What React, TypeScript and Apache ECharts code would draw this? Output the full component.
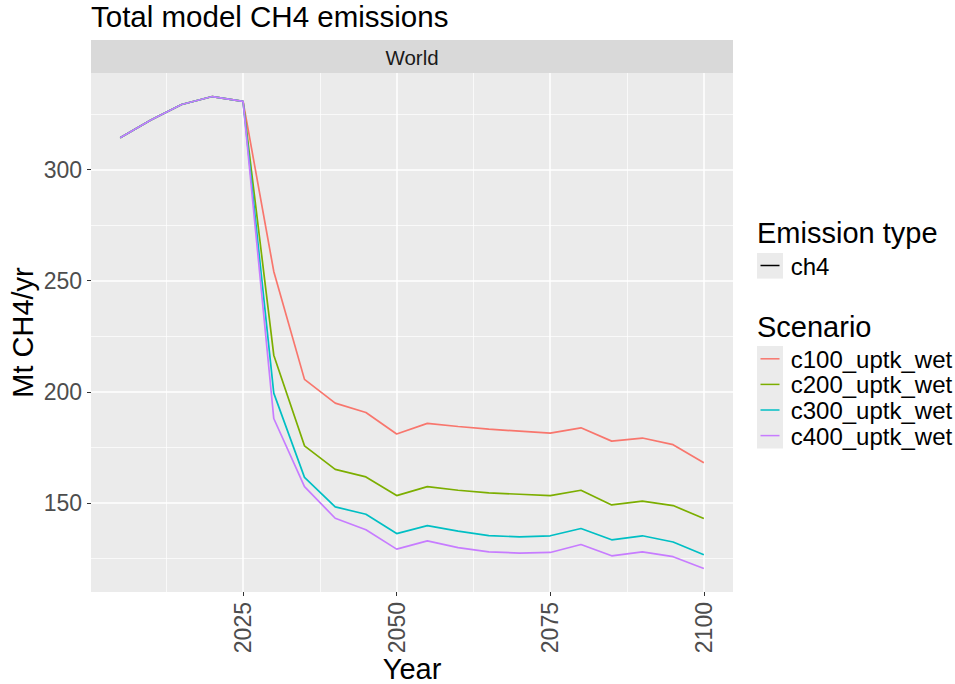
import React, { useEffect, useRef } from "react";
import * as echarts from "echarts";

// Years on the x axis
const years = [
  2005, 2010, 2015, 2020, 2025, 2030, 2035, 2040, 2045, 2050, 2055, 2060, 2065,
  2070, 2075, 2080, 2085, 2090, 2095, 2100,
];

// Shared history 2005–2025 (Mt CH4/yr)
const history = [314.4, 322.3, 329.3, 332.9, 330.7];

// Scenario projections 2030–2100 (Mt CH4/yr)
const c100 = [254.2, 205.6, 194.9, 190.7, 181.0, 185.8, 184.4, 183.2, 182.3, 181.4, 183.8, 177.8, 179.2, 176.2, 168.1];
const c200 = [216.5, 175.7, 165.1, 161.7, 153.3, 157.3, 155.7, 154.5, 153.9, 153.3, 155.7, 149.1, 150.8, 148.8, 143.0];
const c300 = [199.4, 161.5, 148.2, 144.9, 136.2, 139.8, 137.3, 135.3, 134.7, 135.2, 138.5, 133.4, 135.2, 132.4, 126.7];
const c400 = [188.0, 157.3, 143.1, 137.9, 129.2, 132.9, 129.9, 128.0, 127.4, 127.7, 131.3, 126.2, 128.0, 125.8, 120.5];

const scenarioNames = ["c100_uptk_wet", "c200_uptk_wet", "c300_uptk_wet", "c400_uptk_wet"];
const scenarioColors = ["#F8766D", "#7CAE00", "#00BFC4", "#C77CFF"];
const scenarioValues = [c100, c200, c300, c400];

const emissionTypes = ["ch4"];

const xMajorTicks = [2025, 2050, 2075, 2100];
const xMinorTicks = [2012.5, 2037.5, 2062.5, 2087.5];
const yMajorTicks = [150, 200, 250, 300];
const yMinorTicks = [125, 175, 225, 275, 325];

const FONT = "Liberation Sans, Arial, Helvetica, sans-serif";

const PANEL = { left: 91, top: 73, right: 733, bottom: 592 };

export default function App() {
  const ref = useRef<HTMLDivElement>(null);

  useEffect(() => {
    document.body.style.margin = "0";
    if (!ref.current) return;
    const chart = echarts.init(ref.current, undefined, { renderer: "svg" });

    const series = scenarioNames.map((name, k) => {
      const values = history.concat(scenarioValues[k]);
      return {
        name,
        type: "line",
        xAxisIndex: 0,
        yAxisIndex: 0,
        data: years.map((yr, i) => [yr, values[i]]),
        showSymbol: false,
        symbol: "none",
        lineStyle: { color: scenarioColors[k], width: 1.7 },
        itemStyle: { color: scenarioColors[k] },
        z: 3 + k,
      };
    });

    const gridLineMajor = { show: true, lineStyle: { color: "#ffffff", width: 1.5 } };
    const gridLineMinor = { show: true, lineStyle: { color: "#ffffff", width: 0.7 } };
    const xRange = { min: 2000.25, max: 2104.75 };
    const yRange = { min: 109.9, max: 343.5 };

    const legendX = 757;
    const keyW = 26;
    const rowH = 25.6;
    const textX = 790.7;

    const graphic: any[] = [
      // title
      {
        type: "text",
        left: 91,
        top: 1,
        style: { text: "Total model CH4 emissions", font: `29.5px ${FONT}`, fill: "#000000" },
      },
      // facet strip
      {
        type: "rect",
        shape: { x: PANEL.left, y: 40, width: PANEL.right - PANEL.left, height: 33 },
        style: { fill: "#d9d9d9" },
      },
      {
        type: "text",
        x: (PANEL.left + PANEL.right) / 2,
        y: 57,
        style: { text: "World", font: `20.5px ${FONT}`, fill: "#1a1a1a", align: "center", verticalAlign: "middle" },
      },
      // legend: emission type
      {
        type: "text",
        x: 757,
        y: 233,
        style: { text: "Emission type", font: `29px ${FONT}`, fill: "#000000", verticalAlign: "middle" },
      },
      {
        type: "rect",
        shape: { x: legendX, y: 253, width: keyW, height: rowH },
        style: { fill: "#ebebeb" },
      },
      {
        type: "line",
        shape: { x1: legendX + 3.5, y1: 265.5, x2: legendX + keyW - 3.5, y2: 265.5 },
        style: { stroke: "#000000", lineWidth: 1.5 },
      },
      {
        type: "text",
        x: textX,
        y: 266,
        style: { text: emissionTypes[0], font: `24px ${FONT}`, fill: "#000000", verticalAlign: "middle" },
      },
      // legend: scenario
      {
        type: "text",
        x: 757,
        y: 327,
        style: { text: "Scenario", font: `29px ${FONT}`, fill: "#000000", verticalAlign: "middle" },
      },
      {
        type: "rect",
        shape: { x: legendX, y: 346, width: keyW, height: rowH * scenarioNames.length },
        style: { fill: "#ebebeb" },
      },
    ];

    scenarioNames.forEach((name, k) => {
      const cy = 346 + rowH * (k + 0.5);
      graphic.push({
        type: "line",
        shape: { x1: legendX + 3.5, y1: cy, x2: legendX + keyW - 3.5, y2: cy },
        style: { stroke: scenarioColors[k], lineWidth: 1.5 },
      });
      graphic.push({
        type: "text",
        x: textX,
        y: cy + 0.5,
        style: { text: name, font: `24px ${FONT}`, fill: "#000000", verticalAlign: "middle" },
      });
    });

    chart.setOption({
      animation: false,
      backgroundColor: "#ffffff",
      textStyle: { fontFamily: FONT },
      grid: {
        left: PANEL.left,
        top: PANEL.top,
        width: PANEL.right - PANEL.left,
        height: PANEL.bottom - PANEL.top,
        containLabel: false,
        outerBoundsMode: "none",
        show: true,
        backgroundColor: "#ebebeb",
        borderWidth: 0,
      },
      xAxis: [
        {
          type: "value",
          ...xRange,
          position: "bottom",
          name: "Year",
          nameLocation: "middle",
          nameGap: 62,
          nameMoveOverlap: false,
          nameTextStyle: { fontSize: 29, color: "#000000", fontFamily: FONT },
          axisLine: { show: false },
          axisTick: { show: true, length: 4, lineStyle: { color: "#333333", width: 1 }, customValues: xMajorTicks },
          axisLabel: {
            customValues: xMajorTicks,
            rotate: 90,
            margin: 10,
            fontSize: 23,
            color: "#4d4d4d",
            fontFamily: FONT,
            formatter: (v: number) => String(v),
          },
          splitLine: gridLineMajor,
          z: 1,
        },
        {
          type: "value",
          ...xRange,
          position: "bottom",
          axisLine: { show: false },
          axisTick: { show: false, customValues: xMinorTicks },
          axisLabel: { show: false, customValues: xMinorTicks },
          splitLine: gridLineMinor,
          z: 0,
        },
      ],
      yAxis: [
        {
          type: "value",
          ...yRange,
          position: "left",
          name: "Mt CH4/yr",
          nameLocation: "middle",
          nameGap: 54,
          nameMoveOverlap: false,
          nameRotate: 90,
          nameTextStyle: { fontSize: 29, color: "#000000", fontFamily: FONT },
          axisLine: { show: false },
          axisTick: { show: true, length: 4, lineStyle: { color: "#333333", width: 1 }, customValues: yMajorTicks },
          axisLabel: {
            customValues: yMajorTicks,
            margin: 9,
            fontSize: 23,
            color: "#4d4d4d",
            fontFamily: FONT,
          },
          splitLine: gridLineMajor,
          z: 1,
        },
        {
          type: "value",
          ...yRange,
          position: "left",
          axisLine: { show: false },
          axisTick: { show: false, customValues: yMinorTicks },
          axisLabel: { show: false, customValues: yMinorTicks },
          splitLine: gridLineMinor,
          z: 0,
        },
      ],
      series,
      graphic,
    });

    return () => chart.dispose();
  }, []);

  return <div ref={ref} style={{ width: 955, height: 684 }} />;
}
